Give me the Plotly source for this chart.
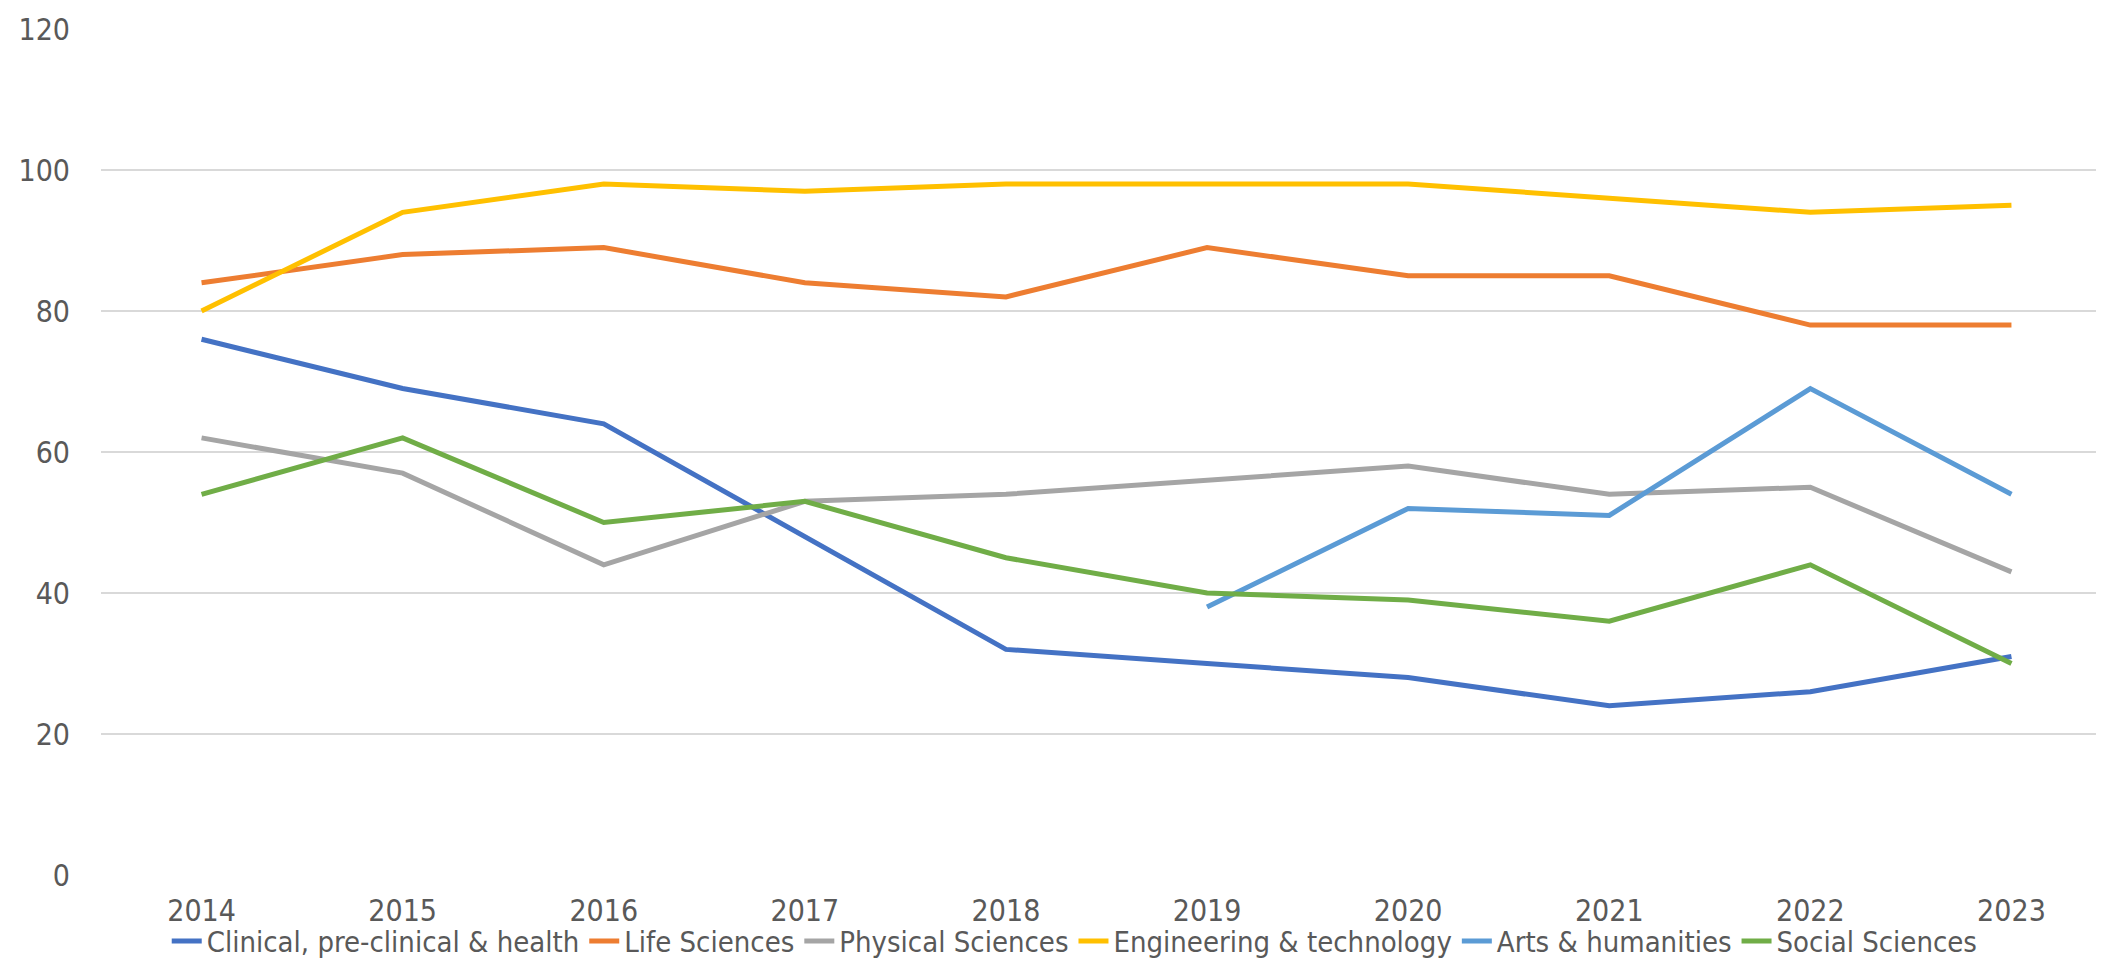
import plotly.graph_objects as go

years = ["2014", "2015", "2016", "2017", "2018", "2019", "2020", "2021", "2022", "2023"]

clinical = [76, 69, 64, 48, 32, 30, 28, 24, 26, 31]
life_sciences = [84, 88, 89, 84, 82, 89, 85, 85, 78, 78]
physical_sciences = [62, 57, 44, 53, 54, 56, 58, 54, 55, 43]
engineering = [80, 94, 98, 97, 98, 98, 98, 96, 94, 95]
arts_humanities = [None, None, None, None, None, 38, 52, 51, 69, 54]
social_sciences = [54, 62, 50, 53, 45, 40, 39, 36, 44, 30]

series = [
    ("Clinical, pre-clinical & health", clinical, "#4472C4"),
    ("Life Sciences", life_sciences, "#ED7D31"),
    ("Physical Sciences", physical_sciences, "#A5A5A5"),
    ("Engineering & technology", engineering, "#FFC000"),
    ("Arts & humanities", arts_humanities, "#5B9BD5"),
    ("Social Sciences", social_sciences, "#70AD47"),
]

y_ticks = [0, 20, 40, 60, 80, 100, 120]

fig = go.Figure()
for name, vals, color in series:
    fig.add_trace(go.Scatter(
        x=years, y=vals, name=name, mode="lines",
        line=dict(color=color, width=5, shape="linear"),
        connectgaps=False,
    ))

narrow = "Liberation Sans Narrow, DejaVu Sans Condensed, Arial Narrow, sans-serif"

fig.update_layout(
    width=2104, height=961,
    paper_bgcolor="white", plot_bgcolor="white",
    margin=dict(l=93, r=0, t=21, b=94, autoexpand=False),
    showlegend=True,
    legend=dict(
        orientation="h", xref="container", yref="container",
        x=0.507, y=0.029, xanchor="center", yanchor="middle",
        bgcolor="rgba(0,0,0,0)",
        font=dict(family=narrow, size=29, color="#595959"),
        itemwidth=30, tracegroupgap=0,
    ),
    xaxis=dict(
        type="category", range=[-0.5, 9.5],
        showgrid=False, zeroline=False,
        showline=False,
        tickfont=dict(family=narrow, size=30, color="#595959"),
        ticks="", ticklabelstandoff=15,
    ),
    yaxis=dict(
        range=[0, 120], tickvals=y_ticks,
        showgrid=True, gridcolor="#D9D9D9", gridwidth=1.5,
        zeroline=False, showline=False,
        tickfont=dict(family=narrow, size=30, color="#595959"),
        ticks="", ticklabelstandoff=30,
    ),
)

fig.write_html("out.html")
